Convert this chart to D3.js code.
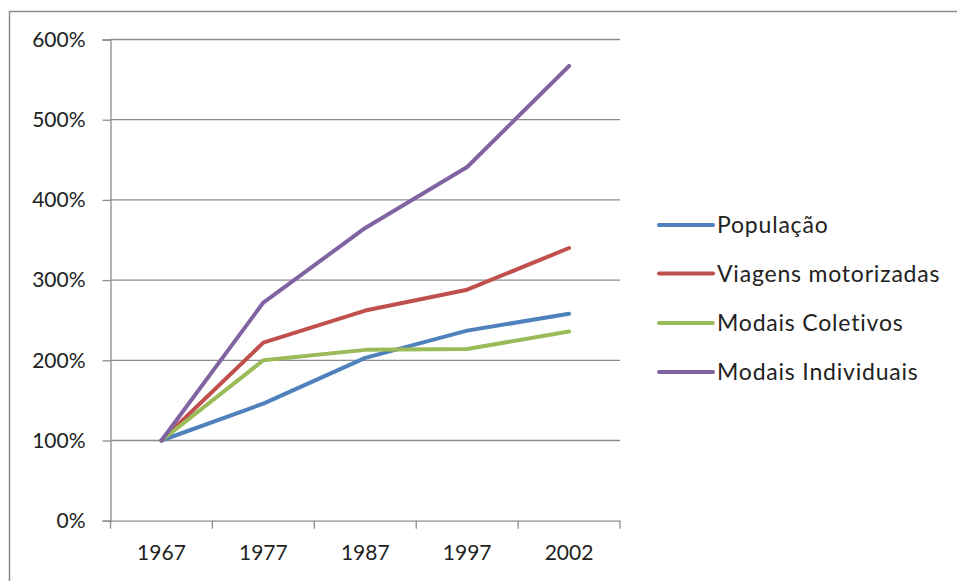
<!DOCTYPE html>
<html>
<head>
<meta charset="utf-8">
<script src="https://cdn.jsdelivr.net/npm/d3@7"></script>
<style>
  html, body { margin: 0; padding: 0; background: #fff; }
  svg { display: block; }
  text { font-family: Lato, "Open Sans", sans-serif; fill: #222; }
</style>
</head>
<body>
<svg id="chart" width="957" height="581"></svg>
<script>
// Growth index (1967 = 100%)
const years = ["1967", "1977", "1987", "1997", "2002"];
const populacao = [1.00, 1.46, 2.03, 2.37, 2.58];
const viagensMotorizadas = [1.00, 2.22, 2.62, 2.88, 3.40];
const modaisColetivos = [1.00, 2.00, 2.13, 2.14, 2.36];
const modaisIndividuais = [1.00, 2.72, 3.65, 4.41, 5.67];
const yTicks = [0, 1, 2, 3, 4, 5, 6];

const series = [
  { name: "População", values: populacao, color: "#4F81BD" },
  { name: "Viagens motorizadas", values: viagensMotorizadas, color: "#C0504D" },
  { name: "Modais Coletivos", values: modaisColetivos, color: "#9BBB59" },
  { name: "Modais Individuais", values: modaisIndividuais, color: "#8064A2" }
];

const svg = d3.select("#chart");
const plotLeft = 110.5, plotRight = 620, plotTop = 39.5, plotBottom = 520.7;

// outer frame (top and left edges)
svg.append("path")
  .attr("d", `M9.5,581 V11.5 H957`)
  .attr("fill", "none")
  .attr("stroke", "#8a8a8a")
  .attr("stroke-width", 1.5);

const x = d3.scaleBand().domain(years).range([plotLeft, plotRight]).padding(0);
const y = d3.scaleLinear().domain([0, 6]).range([plotBottom, plotTop]);

// horizontal gridlines
svg.append("g")
  .selectAll("line")
  .data(yTicks.filter(d => d > 0))
  .join("line")
  .attr("x1", plotLeft).attr("x2", plotRight)
  .attr("y1", d => y(d)).attr("y2", d => y(d))
  .attr("stroke", "#8c8c8c")
  .attr("stroke-width", 1.3);

// y axis
const yAxis = svg.append("g")
  .attr("transform", `translate(${plotLeft},0)`)
  .call(d3.axisLeft(y).tickValues(yTicks).tickSize(8).tickPadding(17)
    .tickFormat(d => d3.format(".0%")(d)));
yAxis.select(".domain").attr("stroke", "#8c8c8c").attr("stroke-width", 1.3);
yAxis.selectAll(".tick line").attr("stroke", "#8c8c8c").attr("stroke-width", 1.3);
yAxis.selectAll(".tick text").style("font-size", "21px").attr("fill", "#222");

// x axis with ticks on band boundaries
const xAxis = svg.append("g")
  .attr("transform", `translate(0,${plotBottom})`)
  .call(d3.axisBottom(x).tickSize(0).tickPadding(24));
xAxis.select(".domain").attr("stroke", "#8c8c8c").attr("stroke-width", 1.3);
xAxis.selectAll(".tick text").style("font-size", "21px").attr("fill", "#222");
xAxis.append("g")
  .selectAll("line")
  .data(years.map(d => x(d)).concat([x(years[years.length - 1]) + x.bandwidth()]))
  .join("line")
  .attr("x1", d => d).attr("x2", d => d)
  .attr("y1", 0).attr("y2", 8)
  .attr("stroke", "#8c8c8c")
  .attr("stroke-width", 1.3);

// series lines
const line = d3.line()
  .x((d, i) => x(years[i]) + x.bandwidth() / 2)
  .y(d => y(d));

svg.append("g")
  .selectAll("path")
  .data(series)
  .join("path")
  .attr("d", d => line(d.values))
  .attr("fill", "none")
  .attr("stroke", d => d.color)
  .attr("stroke-width", 4)
  .attr("stroke-linejoin", "round")
  .attr("stroke-linecap", "round");

// legend
const legendY = [225, 273.5, 323, 372];
const legend = svg.append("g")
  .selectAll("g")
  .data(series)
  .join("g")
  .attr("transform", (d, i) => `translate(659,${legendY[i]})`);
legend.append("line")
  .attr("x1", 0).attr("x2", 54)
  .attr("stroke", d => d.color)
  .attr("stroke-width", 4)
  .attr("stroke-linecap", "round");
legend.append("text")
  .attr("x", 58)
  .attr("dy", "0.35em")
  .style("font-size", "23px")
  .style("letter-spacing", "0.8px")
  .text(d => d.name);
</script>
</body>
</html>
